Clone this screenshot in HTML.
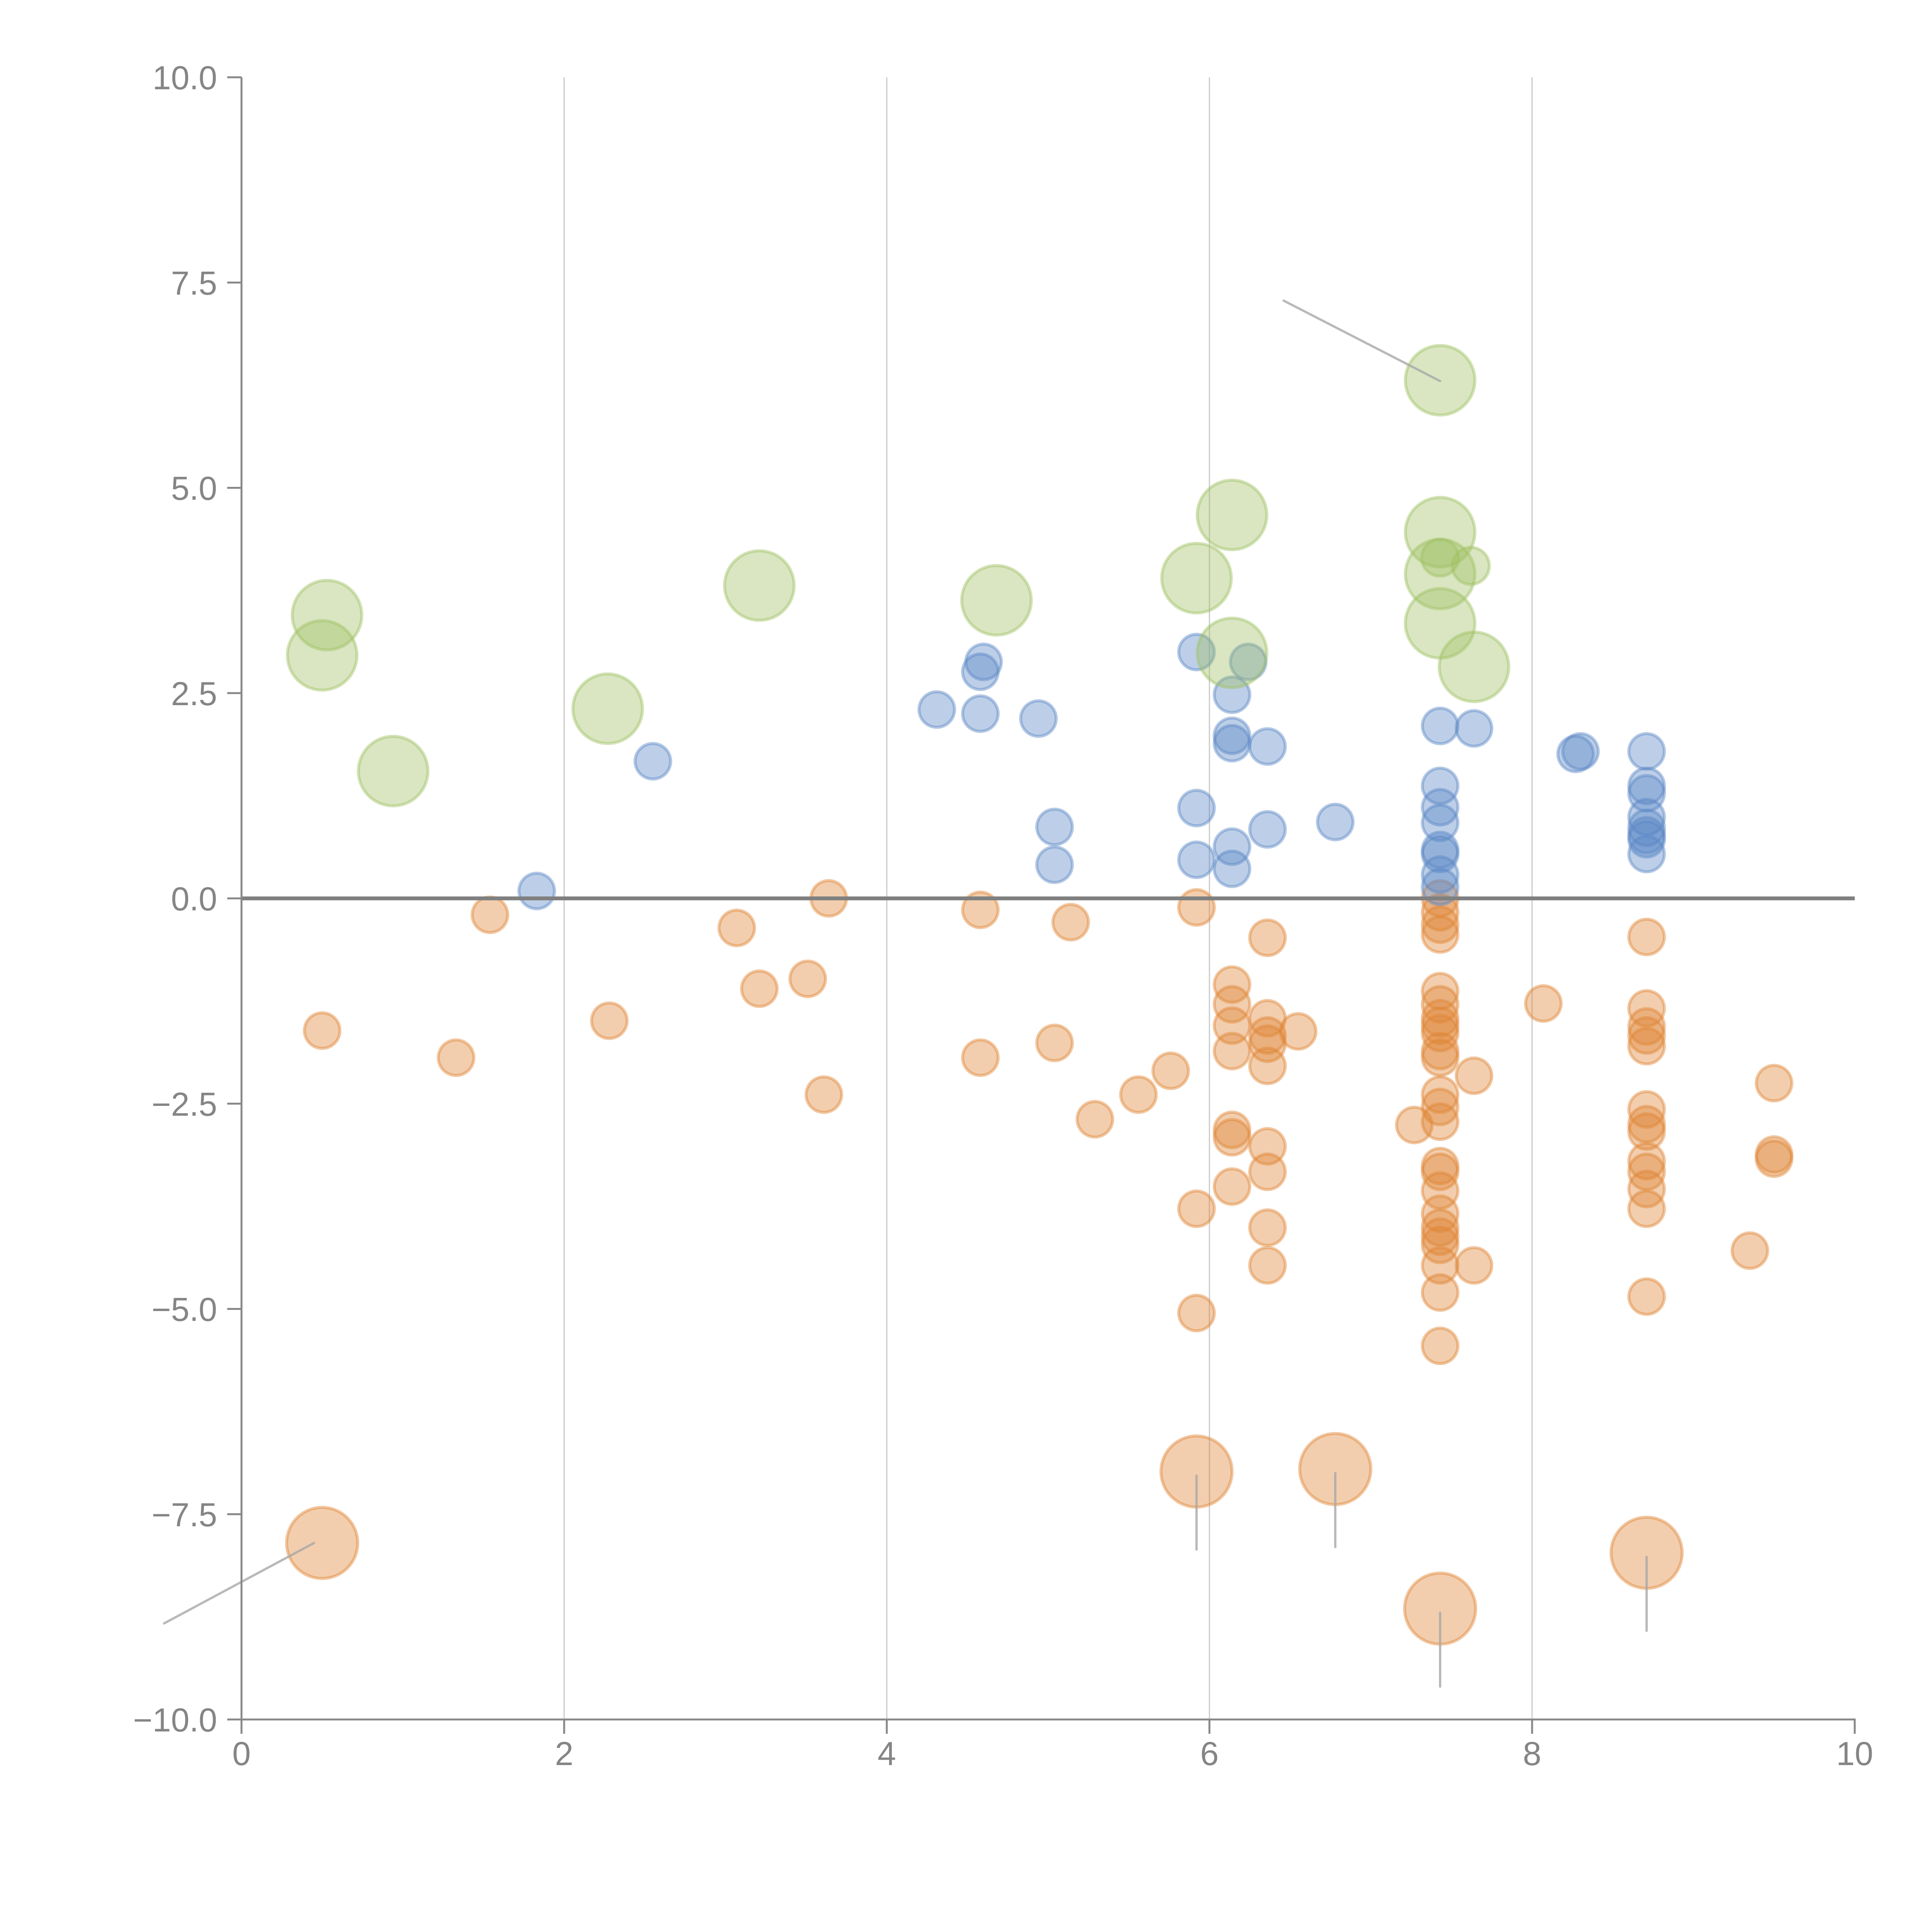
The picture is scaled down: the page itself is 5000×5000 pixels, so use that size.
<!DOCTYPE html>
<html><head><meta charset="utf-8"><style>
html,body{margin:0;padding:0;background:#fff}
svg{display:block}
text{font-family:"Liberation Sans",Arial,sans-serif;fill:#858585;font-size:86px}
</style></head><body>
<svg id="chart" width="5000" height="5000" viewBox="0 0 5000 5000" xmlns="http://www.w3.org/2000/svg">
<g id="grid"></g>
<g id="marks"></g>
<g id="axes"></g>
</svg>
<script>
const xTicks=[0,2,4,6,8,10];
const yTicks=[10,7.5,5,2.5,0,-2.5,-5,-7.5,-10];
const yTickLabels=["10.0","7.5","5.0","2.5","0.0","\u22122.5","\u22125.0","\u22127.5","\u221210.0"];
const greenX=[0.53,0.50,0.94,2.27,3.21,4.68,5.92,6.14,6.14,7.43,7.43,7.43,7.43,7.64];
const greenY=[3.45,2.96,1.55,2.31,3.81,3.63,3.90,4.67,2.99,6.31,4.46,3.95,3.35,2.82];
const greenSmallX=[7.62,7.43];
const greenSmallY=[4.05,4.15];
const blueX=[1.83,2.55,4.31,4.58,4.58,4.60,4.94,5.04,5.04,5.92,5.92,5.92,6.14,6.14,6.14,6.24,6.36,6.14,6.14,6.36,6.78,7.43,7.64,7.43,7.43,7.43,7.43,7.43,7.43,7.43,8.27,8.30,8.71,8.71,8.71,8.71,8.71,8.71,8.71,8.71];
const blueY=[0.09,1.67,2.30,2.25,2.76,2.88,2.19,0.87,0.41,3.00,1.10,0.47,2.48,1.98,1.89,2.88,1.85,0.63,0.36,0.84,0.93,2.10,2.07,1.37,1.11,0.92,0.59,0.54,0.29,0.14,1.76,1.79,1.79,1.37,1.28,0.99,0.86,0.77,0.72,0.54];
const orangeX=[0.50,1.33,1.54,2.28,3.07,3.21,3.51,3.61,3.64,4.58,4.58,5.04,5.14,5.29,5.56,5.76,5.92,5.92,5.92,
6.14,6.14,6.14,6.14,6.14,6.14,6.14,
6.36,6.36,6.36,6.36,6.36,6.36,6.36,6.36,6.36,6.55,7.27,
7.43,7.43,7.43,7.43,7.43,7.43,7.43,7.43,7.43,7.43,7.43,7.43,7.43,7.43,7.43,7.43,7.43,7.43,7.43,7.43,7.43,7.43,7.43,7.43,
7.64,7.64,8.07,
8.71,8.71,8.71,8.71,8.71,8.71,8.71,8.71,8.71,8.71,8.71,8.71,8.71,
9.35,9.50,9.50,9.50];
const orangeY=[-1.61,-1.94,-0.20,-1.49,-0.36,-1.10,-0.98,-2.39,0.00,-0.14,-1.94,-1.76,-0.29,-2.69,-2.39,-2.10,-0.11,-3.78,-5.05,
-1.05,-1.29,-1.55,-1.86,-2.82,-2.91,-3.51,
-0.48,-1.46,-1.67,-1.77,-2.04,-3.02,-3.33,-4.01,-4.47,-1.62,-2.76,
0.00,-0.17,-0.32,-0.44,-1.13,-1.29,-1.46,-1.55,-1.64,-1.86,-1.94,-2.39,-2.54,-2.72,-3.26,-3.33,-3.56,-3.84,-4.01,-4.12,-4.22,-4.47,-4.80,-5.45,
-2.16,-4.47,-1.28,
-0.47,-1.34,-1.56,-1.67,-1.80,-2.57,-2.75,-2.84,-3.20,-3.33,-3.54,-3.78,-4.85,
-4.29,-2.25,-3.12,-3.17];
const orangeBigX=[0.50,5.92,6.78,7.43,8.71];
const orangeBigY=[-7.85,-6.98,-6.95,-8.65,-7.97];
const leaderX1=[0.45,5.92,6.78,7.43,8.71,7.43];
const leaderY1=[-7.85,-7.03,-7.00,-8.70,-8.02,6.30];
const leaderX2=[-0.48,5.92,6.78,7.43,8.71,6.46];
const leaderY2=[-8.83,-7.93,-7.90,-9.60,-8.92,7.28];

const X=v=>625+417.5*v;
const Y=v=>2325-212.5*v;
const NS="http://www.w3.org/2000/svg";
function mk(tag,parent,attrs){const e=document.createElementNS(NS,tag);for(const k in attrs)e.setAttribute(k,attrs[k]);parent.appendChild(e);return e;}
const grid=document.getElementById('grid'),marks=document.getElementById('marks'),axes=document.getElementById('axes');

xTicks.forEach(t=>{if(t>0&&t<10){const l=mk('line',grid,{x1:X(t),x2:X(t),y1:Y(10),y2:Y(-10),stroke:'#c8c8c8','stroke-width':3});

}});

function circles(xs,ys,r,fill,name){xs.forEach((x,i)=>{const c=mk('circle',marks,{cx:X(x),cy:Y(ys[i]),r:r,fill:fill,'fill-opacity':0.4,stroke:fill,'stroke-opacity':0.45,'stroke-width':8});

});}
circles(orangeX,orangeY,46,'#df8435','orange-point');
circles(blueX,blueY,46,'#5a88c6','blue-point');
circles(greenX,greenY,90,'#9fc163','green-bubble');
circles(greenSmallX,greenSmallY,48,'#9fc163','green-point');
circles(orangeBigX,orangeBigY,92,'#df8435','orange-bubble');

leaderX1.forEach((x,i)=>{const l=mk('line',marks,{x1:X(x),y1:Y(leaderY1[i]),x2:X(leaderX2[i]),y2:Y(leaderY2[i]),stroke:'#a8a8a8','stroke-width':6,'stroke-linecap':'round','stroke-opacity':0.8});

});

const z=mk('line',axes,{x1:X(0),x2:X(10),y1:Y(0),y2:Y(0),stroke:'#808080','stroke-width':10});


const ya=mk('line',axes,{x1:X(0),x2:X(0),y1:Y(10),y2:Y(-10)+37,stroke:'#888','stroke-width':5});


const xa=mk('line',axes,{x1:X(0)-37,x2:X(10)+2.5,y1:Y(-10),y2:Y(-10),stroke:'#888','stroke-width':5});


yTicks.forEach((t,i)=>{const tk=mk('line',axes,{x1:X(0)-37,x2:X(0),y1:Y(t),y2:Y(t),stroke:'#888','stroke-width':5});


const tx=mk('text',axes,{x:562,y:Y(t)+31,'text-anchor':'end'});tx.textContent=yTickLabels[i];

});
xTicks.forEach(t=>{const tk=mk('line',axes,{x1:X(t),x2:X(t),y1:Y(-10),y2:Y(-10)+37,stroke:'#888','stroke-width':5});


const tx=mk('text',axes,{x:X(t),y:4568,'text-anchor':'middle'});tx.textContent=String(t);

});
</script>
</body></html>
